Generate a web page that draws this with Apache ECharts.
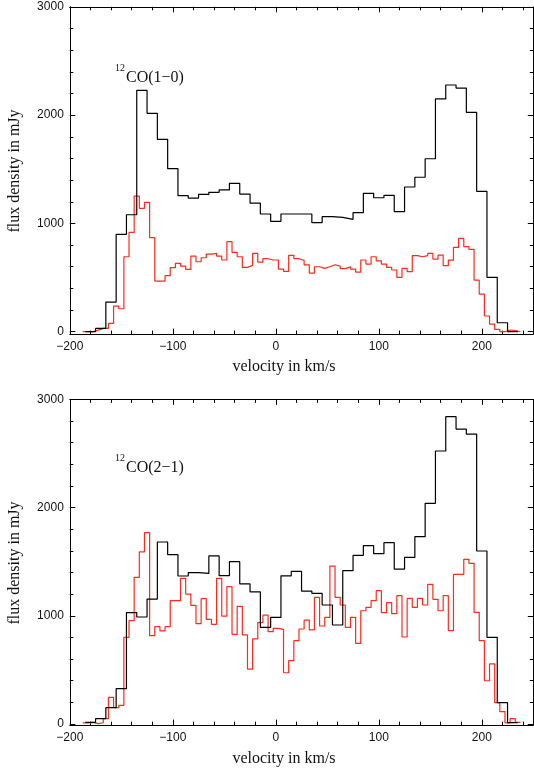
<!DOCTYPE html>
<html>
<head>
<meta charset="utf-8">
<script src="https://cdn.jsdelivr.net/npm/echarts@6/dist/echarts.min.js"></script>
<style>
html,body{margin:0;padding:0;background:#fff;}
#chart{width:534px;height:772px;}
</style>
</head>
<body>
<div id="chart"></div>
<script>
// ---------- data ----------
// channel centres (km/s)
var wideCenters = [-180,-170,-160,-150,-140,-130,-120,-110,-100,-90,-80,-70,-60,-50,-40,-30,-20,-10,0,10,20,30,40,50,60,70,80,90,100,110,120,130,140,150,160,170,180,190,200,210,220,230];
var narrowCentersTop = [-185,-180,-175,-170,-165,-160,-155,-150,-145,-140,-135,-130,-125,-120,-115,-110,-105,-100,-95,-90,-85,-80,-75,-70,-65,-60,-55,-50,-45,-40,-35,-30,-25,-20,-15,-10,-5,0,5,10,15,20,25,30,35,40,45,50,55,60,65,70,75,80,85,90,95,100,105,110,115,120,125,130,135,140,145,150,155,160,165,170,175,180,185,190,195,200,205,210,215,220,225,230,235];
var narrowCentersBottom = narrowCentersTop;

// CO(1-0), black (10 km/s channels)
var co10Black = [0,30,274,899,1080,2229,2016,1776,1505,1256,1234,1268,1287,1309,1370,1271,1188,1087,1019,1087,1087,1087,1007,1062,1056,1038,1099,1278,1237,1259,1108,1336,1426,1597,2149,2278,2250,2026,1296,502,83,0];
// CO(1-0), red (5 km/s channels)
var co10Red = [0,0,15,31,31,77,237,212,692,917,1252,1139,1194,868,468,468,517,591,631,606,575,698,646,683,717,723,698,662,831,732,692,594,612,723,643,674,662,662,578,557,705,674,658,618,541,600,585,600,618,606,582,600,578,551,662,625,692,655,625,594,570,502,584,554,703,692,703,723,671,708,610,661,778,861,785,760,477,348,145,71,22,0,16,10,0];

// CO(2-1), black (10 km/s channels)
var co21Black = [15,49,151,327,1029,989,1155,1682,1565,1368,1400,1392,1553,1371,1500,1295,1222,893,985,1370,1410,1229,1208,1100,915,1417,1559,1648,1574,1676,1432,1540,1731,2040,2523,2840,2726,2680,1599,801,197,12];
// CO(2-1), red (5 km/s channels)
var co21Red = [10,15,3,12,50,246,151,172,801,955,1356,1590,1768,816,900,860,900,1140,1140,1346,1201,1097,927,1158,967,921,1346,998,1269,829,1088,823,508,786,937,1007,853,884,875,474,585,770,878,960,870,1170,906,986,1460,1171,1100,893,986,746,1047,1078,1140,1232,1029,1121,1020,1186,804,1161,1078,1161,1100,1291,1152,1047,1186,863,1383,1383,1522,1485,1032,770,400,555,197,114,10,50,15];

var wideWidth = 10, narrowWidth = 5;

// ticks
var xMajorTicks = [-200,-100,0,100,200];
var xMinorTicks = [-180,-160,-140,-120,-80,-60,-40,-20,20,40,60,80,120,140,160,180,220,240];
var yMajorTicks = [0,1000,2000,3000];
var yMinorTicks = [200,400,600,800,1200,1400,1600,1800,2200,2400,2600,2800];

var panelLabels = ['CO(1\u22120)', 'CO(2\u22121)'];
var isotopeLabel = '12';
var xTitle = 'velocity in km/s';
var yTitle = 'flux density in mJy';

// ---------- helpers ----------
function toSteps(centers, values, width) {
  var pts = [];
  for (var i = 0; i < centers.length; i++) pts.push([centers[i] - width / 2, values[i]]);
  var last = centers.length - 1;
  pts.push([centers[last] + width / 2, values[last]]);
  return pts;
}
function fmt(v) { return v < 0 ? '\u2212' + Math.abs(v) : String(v); }

var BLACK = '#000000', RED = '#ff2a1a';
var tickFont = {fontFamily: 'Liberation Sans, Arial, sans-serif', fontSize: 12, color: '#111'};

var grids = [
  {left: 69.8, width: 463.5, top: 6.8, height: 327.3},
  {left: 69.8, width: 463.5, top: 399.4, height: 325.7}
];
var yMins = [-22, -10];

var xAxes = [], yAxes = [];
function addAxes(g) {
  ['bottom', 'top'].forEach(function (pos) {
    xAxes.push({
      type: 'value', gridIndex: g, position: pos, min: -200, max: 250,
      axisLine: {show: true, onZero: false, lineStyle: {color: BLACK, width: 1}},
      axisTick: {show: true, inside: true, length: 5.5, customValues: xMajorTicks, lineStyle: {color: BLACK, width: 1}},
      axisLabel: pos === 'bottom' ? Object.assign({show: true, customValues: xMajorTicks, margin: 7, formatter: fmt}, tickFont) : {show: false},
      splitLine: {show: false}
    });
    xAxes.push({
      type: 'value', gridIndex: g, position: pos, min: -200, max: 250,
      axisLine: {show: false, onZero: false},
      axisTick: {show: true, inside: true, length: 3.5, customValues: xMinorTicks, lineStyle: {color: BLACK, width: 1}},
      axisLabel: {show: false}, splitLine: {show: false}
    });
  });
  ['left', 'right'].forEach(function (pos) {
    yAxes.push({
      type: 'value', gridIndex: g, position: pos, min: yMins[g], max: 3000,
      axisLine: {show: true, onZero: false, lineStyle: {color: BLACK, width: 1}},
      axisTick: {show: true, inside: true, length: 5.5, customValues: yMajorTicks, lineStyle: {color: BLACK, width: 1}},
      axisLabel: pos === 'left' ? Object.assign({show: true, customValues: yMajorTicks, margin: 6, formatter: fmt}, tickFont) : {show: false},
      splitLine: {show: false}
    });
    yAxes.push({
      type: 'value', gridIndex: g, position: pos, min: yMins[g], max: 3000,
      axisLine: {show: false, onZero: false},
      axisTick: {show: true, inside: true, length: 3.5, customValues: yMinorTicks, lineStyle: {color: BLACK, width: 1}},
      axisLabel: {show: false}, splitLine: {show: false}
    });
  });
}
addAxes(0); addAxes(1);

function stepSeries(g, data, color) {
  return {
    type: 'line', xAxisIndex: g * 4, yAxisIndex: g * 4, step: 'end',
    data: data, showSymbol: false, symbol: 'none', silent: true,
    lineStyle: {color: color, width: 1.2}, z: color === RED ? 3 : 4
  };
}

var series = [
  stepSeries(0, toSteps(narrowCentersTop, co10Red, narrowWidth), RED),
  stepSeries(0, toSteps(wideCenters, co10Black, wideWidth), BLACK),
  stepSeries(1, toSteps(narrowCentersBottom, co21Red, narrowWidth), RED),
  stepSeries(1, toSteps(wideCenters, co21Black, wideWidth), BLACK)
];

var serif = 'Liberation Serif, Times New Roman, serif';
var graphics = [];
[0, 1].forEach(function (g) {
  var dy = g * 390;
  var gc = g === 0 ? 171 : 563;
  graphics.push({type: 'text', rotation: Math.PI / 2, x: 15, y: gc,
    style: {text: yTitle, font: '16px ' + serif, fill: '#111', textAlign: 'center', textVerticalAlign: 'middle'}});
  graphics.push({type: 'text', x: 284, y: (g === 0 ? 367 : 759),
    style: {text: xTitle, font: '16px ' + serif, fill: '#111', textAlign: 'center', textVerticalAlign: 'middle'}});
  graphics.push({type: 'text', x: 115, y: 68.5 + dy,
    style: {text: isotopeLabel, font: '10px ' + serif, fill: '#111', textAlign: 'left', textVerticalAlign: 'middle'}});
  graphics.push({type: 'text', x: 126, y: 78 + dy,
    style: {text: panelLabels[g], font: '16px ' + serif, fill: '#111', textAlign: 'left', textVerticalAlign: 'middle'}});
});

var chart = echarts.init(document.getElementById('chart'), null, {renderer: 'canvas'});
chart.setOption({
  animation: false,
  backgroundColor: '#ffffff',
  grid: grids,
  xAxis: xAxes,
  yAxis: yAxes,
  series: series,
  graphic: graphics
});
</script>
</body>
</html>
